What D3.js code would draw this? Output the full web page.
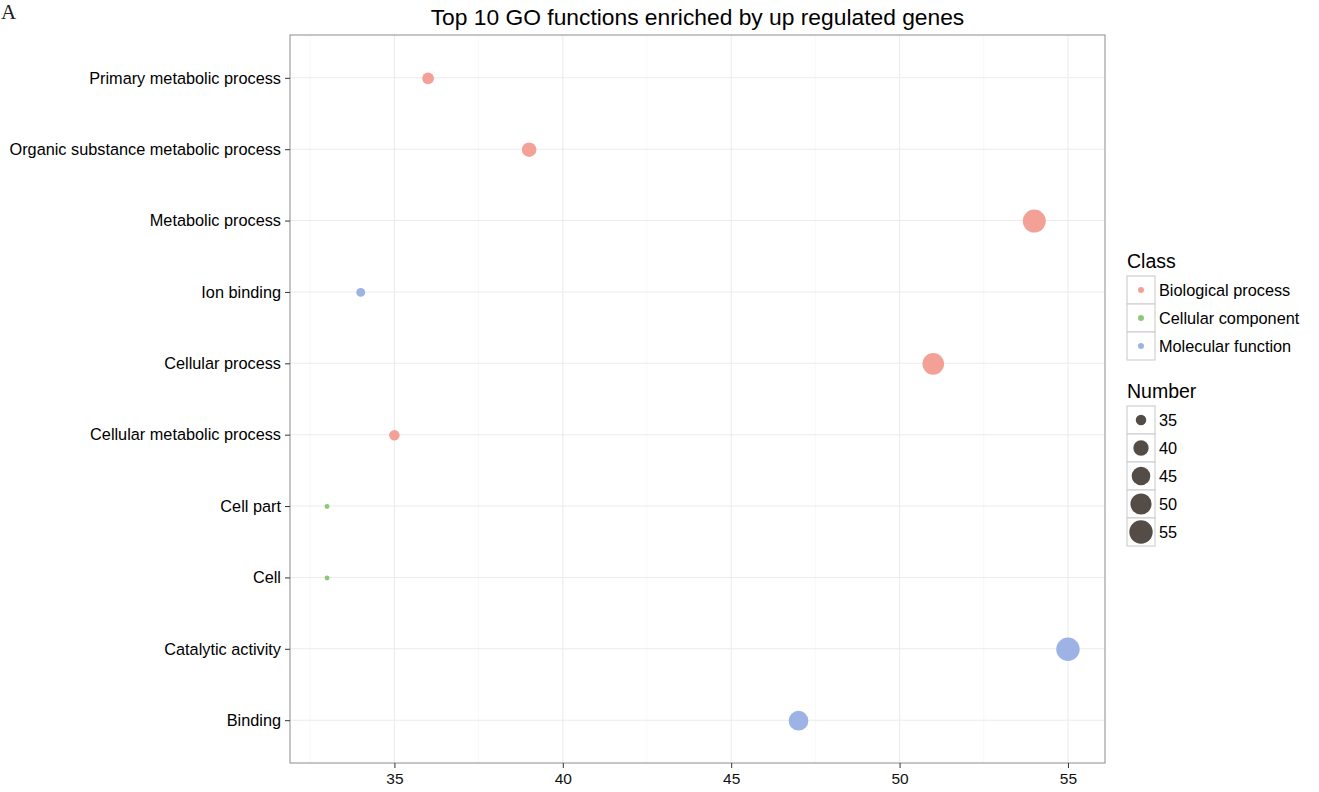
<!DOCTYPE html>
<html><head><meta charset="utf-8">
<script src="https://cdn.jsdelivr.net/npm/d3@7"></script>
<style>body{margin:0;background:#fff;} svg{display:block;font-family:"Liberation Sans",Arial,sans-serif;}</style>
</head><body>
<svg id="chart" width="1319" height="792"></svg>
<script>
const categories = ["Binding","Catalytic activity","Cell","Cell part","Cellular metabolic process","Cellular process","Ion binding","Metabolic process","Organic substance metabolic process","Primary metabolic process"];
const numbers = [47,55,33,33,35,51,34,54,39,36];
const classes = ["Molecular function","Molecular function","Cellular component","Cellular component","Biological process","Biological process","Molecular function","Biological process","Biological process","Biological process"];
const classNames = ["Biological process","Cellular component","Molecular function"];
const classColors = ["#F3A197","#8EC77C","#9DB3E6"];
const xTicks = [35,40,45,50,55];
const sizeBreaks = [35,40,45,50,55];
const title = "Top 10 GO functions enriched by up regulated genes";

const svg = d3.select("#chart");
const m = {l:290, r:1105, t:35, b:763};
const xmin = d3.min(numbers), xmax = d3.max(numbers), ex = (xmax-xmin)*0.05;
const x = d3.scaleLinear().domain([xmin-ex, xmax+ex]).range([m.l, m.r]);
const y = d3.scalePoint().domain(categories).range([m.b, m.t]).padding(0.6);
const color = d3.scaleOrdinal().domain(classNames).range(classColors);
const sizeScale = v => 1 + 5*Math.sqrt(Math.max(0,(v-xmin))/(xmax-xmin));
const r = v => sizeScale(v)*1.85 + 0.6;

// panel
svg.append("rect").attr("x",m.l).attr("y",m.t).attr("width",m.r-m.l).attr("height",m.b-m.t).attr("fill","#fff");
// minor grid
const minor = d3.range(32.5, 56, 5);
svg.append("g").selectAll("line").data(minor).join("line")
  .attr("x1",d=>x(d)).attr("x2",d=>x(d)).attr("y1",m.t).attr("y2",m.b)
  .attr("stroke","#F4F4F4").attr("stroke-width",0.6);
// major grid
svg.append("g").selectAll("line").data(xTicks).join("line")
  .attr("x1",d=>x(d)).attr("x2",d=>x(d)).attr("y1",m.t).attr("y2",m.b)
  .attr("stroke","#EBEBEB").attr("stroke-width",1.1);
svg.append("g").selectAll("line").data(categories).join("line")
  .attr("x1",m.l).attr("x2",m.r).attr("y1",d=>y(d)).attr("y2",d=>y(d))
  .attr("stroke","#EBEBEB").attr("stroke-width",1.1);

// points
const data = categories.map((c,i)=>({cat:c, n:numbers[i], cls:classes[i]}));
svg.append("g").selectAll("circle").data(data).join("circle")
  .attr("cx",d=>x(d.n)).attr("cy",d=>y(d.cat)+0.5).attr("r",d=>r(d.n))
  .attr("fill",d=>color(d.cls));

// border
svg.append("rect").attr("x",m.l).attr("y",m.t).attr("width",m.r-m.l).attr("height",m.b-m.t)
  .attr("fill","none").attr("stroke","#8C8C8C").attr("stroke-width",1);

// axes
const xAxis = svg.append("g").attr("transform",`translate(0,${m.b})`)
  .call(d3.axisBottom(x).tickValues(xTicks).tickSize(5).tickPadding(5));
xAxis.select(".domain").remove();
xAxis.selectAll("line").attr("stroke","#333");
xAxis.attr("font-size",15.5);
xAxis.selectAll("text").style("font-size","15.5px").attr("fill","#111");

const yAxis = svg.append("g").attr("transform",`translate(${m.l},0)`)
  .call(d3.axisLeft(y).tickSize(5).tickPadding(4));
yAxis.select(".domain").remove();
yAxis.selectAll("line").attr("stroke","#333");
yAxis.selectAll("text").style("font-size","16.3px").attr("fill","#000");

// title
svg.append("text").attr("x",(m.l+m.r)/2).attr("y",25).attr("text-anchor","middle")
  .attr("font-size",22.8).attr("fill","#000").text(title);
// panel letter
svg.append("text").attr("x",1).attr("y",19).attr("font-family","'Liberation Serif',serif")
  .attr("font-size",21).attr("fill","#222").text("A");

// legend: Class
const lx = 1127, kw = 28;
svg.append("text").attr("x",lx).attr("y",268).attr("font-size",19.5).attr("fill","#000").text("Class");
const lg1 = svg.append("g").attr("transform",`translate(${lx},276)`);
classNames.forEach((c,i)=>{
  const g = lg1.append("g").attr("transform",`translate(0,${i*kw})`);
  g.append("rect").attr("width",kw).attr("height",kw).attr("fill","#fff").attr("stroke","#D0D0D0").attr("stroke-width",1.2);
  g.append("circle").attr("cx",kw/2).attr("cy",kw/2).attr("r",3).attr("fill",color(c));
  g.append("text").attr("x",kw+4).attr("y",kw/2+6).attr("font-size",16.3).attr("fill","#000").text(c);
});

// legend: Number
svg.append("text").attr("x",lx).attr("y",398).attr("font-size",19.5).attr("fill","#000").text("Number");
const lg2 = svg.append("g").attr("transform",`translate(${lx},406)`);
sizeBreaks.forEach((v,i)=>{
  const g = lg2.append("g").attr("transform",`translate(0,${i*kw})`);
  g.append("rect").attr("width",kw).attr("height",kw).attr("fill","#fff").attr("stroke","#D0D0D0").attr("stroke-width",1.2);
  g.append("circle").attr("cx",kw/2).attr("cy",kw/2).attr("r",r(v)).attr("fill","#534C47");
  g.append("text").attr("x",kw+4).attr("y",kw/2+6).attr("font-size",16.3).attr("fill","#000").text(v);
});
</script>
</body></html>
